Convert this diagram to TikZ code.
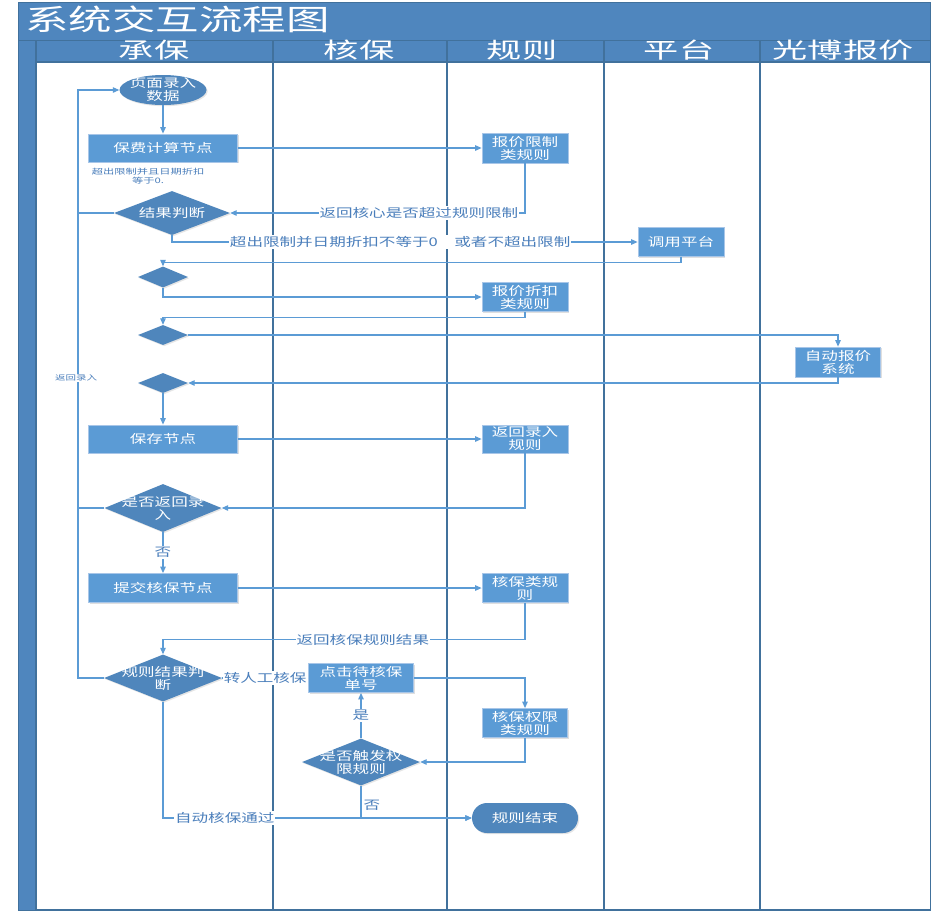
\documentclass[tikz,border=0pt]{standalone}
\usepackage{fontspec}
\setmainfont{Noto Sans CJK SC}
\usetikzlibrary{shapes.geometric,arrows.meta,shadows}
\definecolor{band}{HTML}{4F86BE}
\definecolor{lanel}{HTML}{41719C}
\definecolor{rectb}{HTML}{5B9BD5}
\definecolor{rectbd}{HTML}{A8C6E8}
\definecolor{diab}{HTML}{4F86BC}
\definecolor{lineb}{HTML}{5B9BD5}
\definecolor{lblc}{HTML}{4A7EBB}
\newcommand{\wtx}[1]{\scalebox{1.38}[1]{#1}}
\newcommand{\wtt}[1]{\scalebox{1.5}[1]{#1}}
\tikzset{
  box/.style={rectangle, fill=rectb, draw=rectbd, line width=0.8pt, text=white, align=center,
    inner sep=0pt, font=\fontsize{12}{13}\selectfont,
    drop shadow={opacity=0.25, shadow xshift=1.2pt, shadow yshift=-1.2pt}},
  dia/.style={diamond, fill=diab, draw=none, inner sep=0pt,
    drop shadow={opacity=0.2, shadow xshift=1.2pt, shadow yshift=-1.2pt}},
  dtext/.style={text=white, align=center, font=\fontsize{12}{13}\selectfont, inner sep=0pt},
  oval/.style={ellipse, fill=diab, draw=none, inner sep=0pt,
    drop shadow={opacity=0.2, shadow xshift=1.2pt, shadow yshift=-1.2pt}},
  conn/.style={draw=lineb, line width=1.1pt},
  arr/.style={conn, -{Triangle[length=6.5pt,width=5.5pt]}},
  lbl/.style={fill=white, text=lblc, inner sep=1pt, font=\fontsize{12}{13}\selectfont},
  lane/.style={draw=lanel, line width=1.3pt},
  hdr/.style={text=white, font=\fontsize{22}{22}\selectfont, inner sep=0pt},
}
\begin{document}
\begin{tikzpicture}[x=1pt,y=-1pt]
\useasboundingbox (0,0) rectangle (936,914);
\fill[white] (0,0) rectangle (936,914);
% frame
\fill[band] (18,2) rectangle (930,62);
\fill[band] (18,40) rectangle (36,910);
\draw[lanel, line width=0.8pt] (18,40) -- (930,40);
\draw[lanel, line width=1pt] (18,2) rectangle (930,910);
\draw[lane] (36,40) -- (36,910);
\draw[lane] (36,62) -- (930,62);
\draw[lane] (273,40) -- (273,910);
\draw[lane] (447,40) -- (447,910);
\draw[lane] (604,40) -- (604,910);
\draw[lane] (760,40) -- (760,910);
\draw[lane] (36,910) -- (930,910);
\node[text=white, font=\fontsize{29}{29}\selectfont, inner sep=0pt, anchor=west] (title) at (25,19) {\wtt{系统交互流程图}};
\node[hdr] (h1) at (154,50) {\scalebox{1.6}[1]{承保}};
\node[hdr] (h2) at (359,50) {\scalebox{1.6}[1]{核保}};
\node[hdr] (h3) at (522,50) {\scalebox{1.6}[1]{规则}};
\node[hdr] (h4) at (679,50) {\scalebox{1.6}[1]{平台}};
\node[hdr] (h5) at (843,50) {\scalebox{1.6}[1]{光博报价}};

% nodes
\node[oval, minimum width=87pt, minimum height=30pt] (e1) at (163,90) {};
\node[dtext] (e1t) at (e1) {\wtx{页面录入}\\\wtx{数据}};
\node[box, minimum width=149pt, minimum height=28pt] (r1) at (163,148) {\wtx{保费计算节点}};
\node[box, minimum width=86pt, minimum height=30pt] (q1) at (525,148) {\wtx{报价限制}\\\wtx{类规则}};
\node[text=lblc, align=center, inner sep=0pt, font=\fontsize{7.5}{9}\selectfont] (note) at (148,176) {\wtt{超出限制并且日期折扣}\\\wtt{等于0.}};
\node[dia, minimum width=116pt, minimum height=44pt] (d1) at (172,213) {};
\node[dtext] (d1t) at (d1) {\wtx{结果判断}};
\node[box, minimum width=86pt, minimum height=29pt] (p1) at (681,242) {\wtx{调用平台}};
\node[dia, minimum width=50pt, minimum height=21pt] (dm1) at (163,277) {};
\node[box, minimum width=86pt, minimum height=29pt] (q2) at (525,297) {\wtx{报价折扣}\\\wtx{类规则}};
\node[dia, minimum width=50pt, minimum height=20pt] (dm2) at (163,335) {};
\node[box, minimum width=85pt, minimum height=30pt] (au) at (838,362) {\wtx{自动报价}\\\wtx{系统}};
\node[dia, minimum width=50pt, minimum height=20pt] (dm3) at (163,383) {};
\node[box, minimum width=149pt, minimum height=28pt] (s1) at (163,439) {\wtx{保存节点}};
\node[box, minimum width=86pt, minimum height=28pt] (r3) at (525,439) {\wtx{返回录入}\\\wtx{规则}};
\node[dia, minimum width=117pt, minimum height=48pt] (d2) at (163,508) {};
\node[dtext] (d2t) at (d2) {\wtx{是否返回录}\\\wtx{入}};
\node[box, minimum width=149pt, minimum height=29pt] (s2) at (163,588) {\wtx{提交核保节点}};
\node[box, minimum width=86pt, minimum height=29pt] (r4) at (525,588) {\wtx{核保类规}\\\wtx{则}};
\node[dia, minimum width=118pt, minimum height=47pt] (d3) at (163,678) {};
\node[dtext] (d3t) at (d3) {\wtx{规则结果判}\\\wtx{断}};
\node[box, minimum width=105pt, minimum height=29pt] (k1) at (361,678) {\wtx{点击待核保}\\\wtx{单号}};
\node[box, minimum width=85pt, minimum height=29pt] (r5) at (525,723) {\wtx{核保权限}\\\wtx{类规则}};
\node[dia, minimum width=118pt, minimum height=47pt] (d4) at (361,762) {};
\node[dtext] (d4t) at (d4) {\wtx{是否触发权}\\\wtx{限规则}};
\node[rectangle, rounded corners=15pt, fill=diab, text=white, minimum width=106pt, minimum height=30pt, inner sep=0pt,
  font=\fontsize{12}{13}\selectfont, drop shadow={opacity=0.2, shadow xshift=1.2pt, shadow yshift=-1.2pt}] (en) at (525,818) {\wtx{规则结束}};

\coordinate (Lx) at (78,0);

% connectors
\draw[arr] (e1.south) -- (r1.north);
\draw[arr] (r1.east) -- (q1.west);
\draw[arr] (q1.south) |- (d1.east) node[lbl, pos=0.68] {\wtx{返回核心是否超过规则限制}};
\draw[arr] (d1.west) -- (d1.west -| Lx) |- (e1.west);
\draw[arr] (d1.south) |- (p1.west) node[lbl, pos=0.745] {\wtx{超出限制并日期折扣不等于0\quad 或者不超出限制}};
\draw[arr] (p1.south) -- ++(0,6) -| (dm1.north);
\draw[arr] (dm1.south) |- (q2.west);
\draw[arr] (q2.south) -- ++(0,6) -| (dm2.north);
\draw[arr] (dm2.east) -| (au.north);
\draw[arr] (au.south) |- (dm3.east);
\draw[arr] (dm3.south) -- (s1.north);
\draw[arr] (s1.east) -- (r3.west);
\draw[arr] (r3.south) |- (d2.east);
\draw[conn] (d2.west) -- (d2.west -| Lx);
\draw[arr] (d2.south) -- (s2.north) node[lbl, midway] {\wtx{否}};
\draw[arr] (s2.east) -- (r4.west);
\draw[arr] (r4.south) -- ++(0,37) -| (d3.north) node[lbl, pos=0.224] {\wtx{返回核保规则结果}};
\draw[conn] (d3.west) -- (d3.west -| Lx) -- (d1.west -| Lx);
\node[lbl, font=\fontsize{7}{8}\selectfont, inner sep=0.5pt] (back) at (76,378) {\wtt{返回录入}};
\draw[arr] (d3.east) -- (k1.west) node[lbl, midway] {\wtx{转人工核保}};
\draw[arr] (k1.east) -| (r5.north);
\draw[arr] (r5.south) |- (d4.east);
\draw[arr] (d4.north) -- (k1.south) node[lbl, midway] {\wtx{是}};
\draw[arr] (d4.south) |- (en.west) node[lbl, pos=0.3, anchor=west, xshift=1pt] {\wtx{否}};
\draw[arr] (d3.south) |- (en.west) node[lbl, pos=0.6] {\wtx{自动核保通过}};
\end{tikzpicture}
\end{document}
